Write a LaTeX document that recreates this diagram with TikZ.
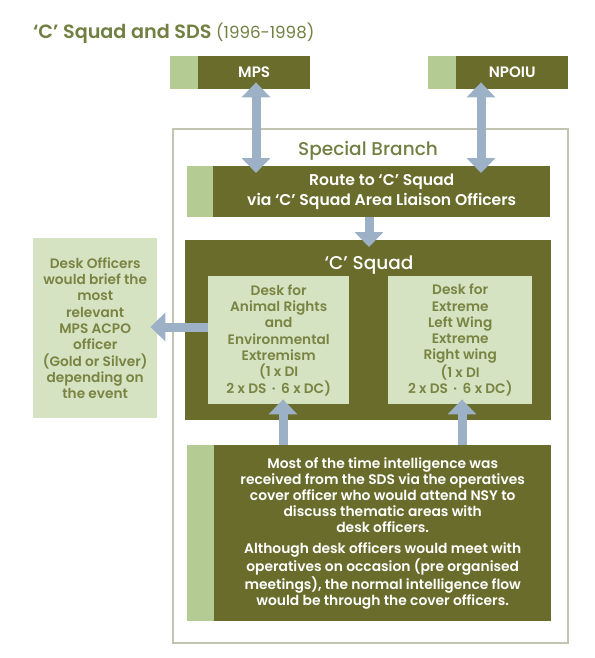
\documentclass[tikz,border=0pt]{standalone}
\usepackage{fontspec}
\setmainfont{Poppins}[UprightFont=* SemiBold, BoldFont=* Bold]
\newfontfamily\preg{Poppins}
\newfontfamily\pmed{Poppins}[UprightFont=* Medium]
\usetikzlibrary{arrows.meta}
\definecolor{olive}{HTML}{6A6C2C}
\definecolor{lightbar}{HTML}{B4CB93}
\definecolor{lightfill}{HTML}{D6E3C3}
\definecolor{textolive}{HTML}{7A8442}
\definecolor{titlegreen}{HTML}{718042}
\definecolor{bordergrey}{HTML}{C2C4B2}
\definecolor{arrowblue}{HTML}{9CB1C6}
\tikzset{
  darkbox/.style={fill=olive, text=white, inner sep=0pt, anchor=north west, align=center},
  lightbox/.style={fill=lightfill, text=textolive, inner sep=0pt, anchor=north west, align=center},
  barfill/.style={fill=lightbar},
  deskfont/.style={font=\fontsize{13.7}{16.3}\selectfont},
  bodyfont/.style={font=\fontsize{13.85}{16}\selectfont},
  tipA/.tip={Triangle[width=28pt,length=15pt]},
  biarrow/.style={draw=arrowblue, line width=9pt, arrows={tipA-tipA}},
  oneway/.style={draw=arrowblue, line width=9pt, arrows={-tipA}},
}
\begin{document}
\begin{tikzpicture}[x=1pt,y=-1pt]
\useasboundingbox (0,0) rectangle (594,658);
\fill[white] (0,0) rectangle (594,658);
% title
\node[anchor=base west, inner sep=0pt, text=titlegreen] (title) at (33,39) {\fontsize{19.2}{20}\selectfont ‘C’ Squad and SDS {\preg\fontsize{16.7}{20}\selectfont (1996-1998)}};
% top boxes
\fill[barfill] (170,56) rectangle (198,89);
\node[darkbox, minimum width=112pt, minimum height=33pt, font=\fontsize{15.1}{18}\selectfont] (mps) at (198,56) {MPS};
\fill[barfill] (428,56) rectangle (456,89);
\node[darkbox, minimum width=112pt, minimum height=33pt, font=\fontsize{15.1}{18}\selectfont] (npoiu) at (456,56) {NPOIU};
% special branch
\node[draw=bordergrey, line width=1.5pt, inner sep=0pt, anchor=north west, minimum width=395pt, minimum height=514pt] (sb) at (172,128) {};
\node[anchor=base, inner sep=0pt, text=titlegreen, font=\pmed\fontsize{18.5}{22}\selectfont] (sbtitle) at (368,155) {Special Branch};
% route box
\fill[barfill] (187,166) rectangle (213,217);
\node[darkbox, font=\fontsize{15.6}{19.5}\selectfont, minimum width=337pt, minimum height=51pt] (route) at (213,166) {Route to ‘C’ Squad\\via ‘C’ Squad Area Liaison Officers};
% C squad
\node[darkbox, minimum width=366pt, minimum height=180pt] (cs) at (185,240) {};
\node[anchor=base, inner sep=0pt, text=white, font=\pmed\fontsize{18.5}{22}\selectfont] (cstitle) at (369,269) {‘C’ Squad};
\node[lightbox, deskfont, minimum width=141pt, minimum height=128pt] (desk1) at (208,276) {Desk for\\Animal Rights\\and\\Environmental\\Extremism\\(1 x DI\\2 x DS \,·\, 6 x DC)};
\node[lightbox, deskfont, minimum width=144pt, minimum height=128pt] (desk2) at (388,276) {Desk for\\Extreme\\Left Wing\\Extreme\\Right wing\\(1 x DI\\2 x DS \,·\, 6 x DC)};
% side box
\node[lightbox, deskfont, minimum width=124pt, minimum height=180pt] (side) at (33,238) {Desk Officers\\would brief the\\most\\relevant\\MPS ACPO\\officer\\(Gold or Silver)\\depending on\\the event};
% bottom box
\fill[barfill] (187,445) rectangle (214,621);
\node[darkbox, bodyfont, minimum width=337pt, minimum height=176pt] (bottom) at (214,445) {Most of the time intelligence was\\received from the SDS via the operatives\\cover officer who would attend NSY to\\discuss thematic areas with\\desk officers.\\[5.5pt]Although desk officers would meet with\\operatives on occasion (pre organised\\meetings), the normal intelligence flow\\would be through the cover officers.};
% connectors
\coordinate (mpsx) at (256,0);
\coordinate (npx) at (481,0);
\draw[biarrow, shorten <=-7pt, shorten >=-7pt] (mpsx |- mps.south) -- (mpsx |- route.north);
\draw[biarrow, shorten <=-7pt, shorten >=-7pt] (npx |- npoiu.south) -- (npx |- route.north);
\coordinate (rcx) at (369,0);
\draw[oneway, shorten >=-7pt] (rcx |- route.south) -- (rcx |- cs.north);
\coordinate (ly) at (0,327);
\draw[oneway, shorten >=-7pt] (desk1.west |- ly) -- (side.east |- ly);
\coordinate (u1) at (283,0);
\coordinate (u2) at (462,0);
\draw[oneway, shorten >=-5pt] (u1 |- bottom.north) -- (u1 |- desk1.south);
\draw[oneway, shorten >=-5pt] (u2 |- bottom.north) -- (u2 |- desk2.south);
\end{tikzpicture}
\end{document}
